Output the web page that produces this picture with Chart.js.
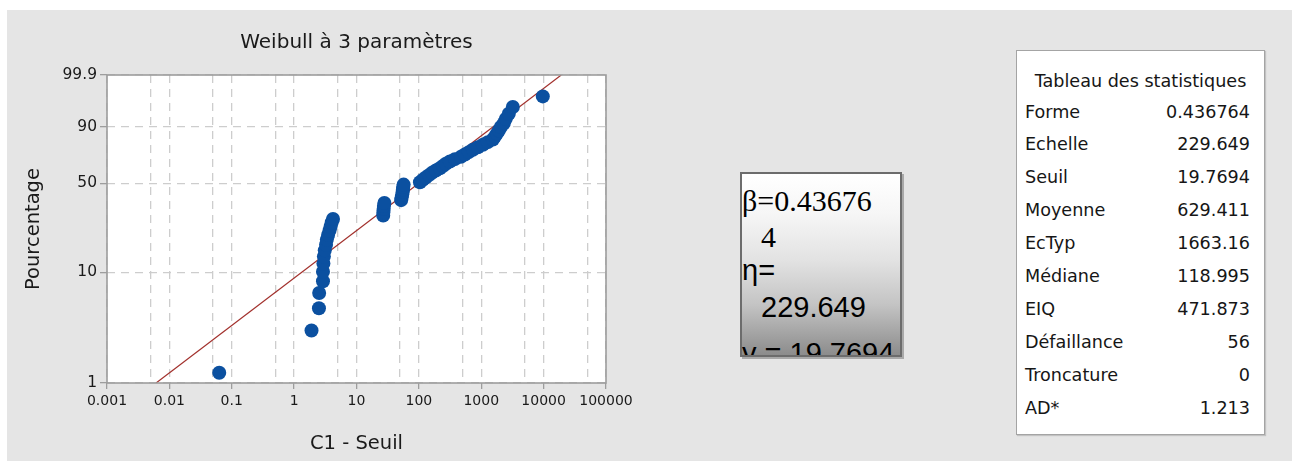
<!DOCTYPE html>
<html lang="fr">
<head>
<meta charset="utf-8">
<title>Weibull à 3 paramètres</title>
<script src="https://cdn.jsdelivr.net/npm/chart.js@4.4.1/dist/chart.umd.min.js"></script>
<style>
  html, body { margin: 0; padding: 0; background: #ffffff; }
  body { width: 1292px; height: 463px; position: relative; overflow: hidden; }
  #panel { position: absolute; left: 7px; top: 10px; width: 1285px; height: 451px; background: #e5e5e5; }
  #plot { position: absolute; left: 0; top: 0; }
  #params {
    position: absolute; left: 740px; top: 172px; width: 158px; height: 181px;
    border: 2px solid #6c6c6c; overflow: hidden;
    background: linear-gradient(to bottom, #ffffff 0%, #f6f6f6 22%, #e2e2e2 48%, #c4c4c4 72%, #8c8c8c 100%);
    box-shadow: 2px 2px 0 #a9a9a9;
  }
  #params div { position: absolute; white-space: nowrap; line-height: 1; color: #000; }
  #params .serif { font-family: "Liberation Serif", "Times New Roman", serif; font-size: 30px; }
  #params .sans { font-family: "Liberation Sans", Arial, sans-serif; font-size: 29px; }
  #stats {
    position: absolute; left: 1016px; top: 50px; width: 247px; height: 383px;
    background: #ffffff; border: 1px solid #a4a4a4; box-shadow: 1px 1px 1px #c2c2c2;
    font-family: "DejaVu Sans", sans-serif; font-size: 17.6px; color: #161616;
  }
  #stats .row { position: absolute; left: 8px; right: 14px; height: 33px; line-height: 33px; white-space: nowrap; }
  #stats .row .v { position: absolute; right: 0; top: 0; }
  #stats .head { position: absolute; left: 0; right: 0; height: 33px; line-height: 33px; text-align: center; white-space: nowrap; }
</style>
</head>
<body>
<div id="panel"></div>
<canvas id="plot" width="640" height="463"></canvas>

<div id="params">
  <div class="serif" style="left:0px; top:11.5px;">β=0.43676</div>
  <div class="serif" style="left:19px; top:47.5px;">4</div>
  <div class="sans" style="left:0px; top:82px;">η=</div>
  <div class="sans" style="left:19px; top:118.5px;">229.649</div>
  <div class="sans" style="left:0px; top:165px;">γ = 19.7694</div>
</div>

<div id="stats"></div>

<script>
// Weibull 3-parameter fit
const shapeBeta = 0.436764;
const scaleEta = 229.649;
const thresholdGamma = 19.7694;

// Statistics table
const statLabels = ['Forme', 'Echelle', 'Seuil', 'Moyenne', 'EcTyp', 'Médiane', 'EIQ', 'Défaillance', 'Troncature', 'AD*'];
const statValues = ['0.436764', '229.649', '19.7694', '629.411', '1663.16', '118.995', '471.873', '56', '0', '1.213'];

// Axis ticks
const xTickValues = [0.001, 0.01, 0.1, 1, 10, 100, 1000, 10000, 100000];
const xTickLabels = ['0.001', '0.01', '0.1', '1', '10', '100', '1000', '10000', '100000'];
const xMinorGrid = [0.005, 0.05, 0.5, 5, 50, 500, 5000, 50000];
const yTickValues = [1, 10, 50, 90, 99.9];
const yTickLabels = ['1', '10', '50', '90', '99.9'];

// Failure times (C1 - Seuil) and their plotting positions (%)
const obsTime = [
  0.063, 1.9, 2.5, 2.52, 2.9, 2.9, 2.95, 3.0, 3.1, 3.25, 3.35, 3.5, 3.7, 3.85, 4.0, 4.2,
  26.8, 27.0, 27.2, 27.5, 28.0,
  52, 53, 54, 55, 55.5, 56, 57,
  104, 116, 129, 145, 162, 187, 217, 243, 271, 314, 378, 471, 546, 632, 733, 883,
  1062, 1276, 1535, 1652, 1778, 1915, 2061, 2302, 2478, 2768, 3206, 9705
];
const obsPercent = [
  1.241, 3.014, 4.787, 6.560, 8.333, 10.106, 11.879, 13.652, 15.426, 17.199, 18.972, 20.745,
  22.518, 24.291, 26.064, 27.837, 29.610, 31.383, 33.156, 34.929, 36.702, 38.475, 40.248,
  42.021, 43.794, 45.567, 47.340, 49.113, 50.887, 52.660, 54.433, 56.206, 57.979, 59.752,
  61.525, 63.298, 65.071, 66.844, 68.617, 70.390, 72.163, 73.936, 75.709, 77.482, 79.255,
  81.028, 82.801, 84.574, 86.348, 88.121, 89.894, 91.667, 93.440, 95.213, 96.986, 98.759
];

// Percent ends of the fitted line
const fitPercent = [1, 99.9];

// Weibull probability paper: percent -> ln(-ln(1 - p))
const wb = p => Math.log(-Math.log(1 - p / 100));
// Time for a given percent on the fitted distribution
const fitTime = p => scaleEta * Math.pow(-Math.log(1 - p / 100), 1 / shapeBeta);

// Statistics table
(function buildTable() {
  const box = document.getElementById('stats');
  const head = document.createElement('div');
  head.className = 'head';
  head.style.top = '14px';
  head.textContent = 'Tableau des statistiques';
  box.appendChild(head);
  statLabels.forEach((lab, k) => {
    const row = document.createElement('div');
    row.className = 'row';
    row.style.top = (44.5 + k * 32.96) + 'px';
    const l = document.createElement('span');
    l.textContent = lab;
    const v = document.createElement('span');
    v.className = 'v';
    v.textContent = statValues[k];
    row.appendChild(l);
    row.appendChild(v);
    box.appendChild(row);
  });
})();

const textColor = '#1a1a1a';
const frameColor = '#9d9d9d';
const gridColor = '#cdcdcd';

const plotDecor = {
  id: 'plotDecor',
  beforeDraw(chart) {
    const { ctx, chartArea: a } = chart;
    ctx.save();
    ctx.fillStyle = '#ffffff';
    ctx.fillRect(a.left, a.top, a.right - a.left, a.bottom - a.top);
    ctx.restore();
  },
  afterDraw(chart) {
    const { ctx, chartArea: a } = chart;
    ctx.save();
    ctx.strokeStyle = frameColor;
    ctx.lineWidth = 1.6;
    ctx.strokeRect(a.left, a.top, a.right - a.left, a.bottom - a.top);
    ctx.fillStyle = textColor;
    ctx.font = '20px "DejaVu Sans", sans-serif';
    ctx.textAlign = 'center';
    ctx.textBaseline = 'middle';
    ctx.fillText('Weibull à 3 paramètres', (a.left + a.right) / 2, 43);
    ctx.restore();
  }
};

new Chart(document.getElementById('plot'), {
  type: 'scatter',
  data: {
    datasets: [
      {
        label: 'C1',
        data: obsTime.map((t, i) => ({ x: t, y: wb(obsPercent[i]) })),
        backgroundColor: '#0b50a0',
        borderColor: '#0b50a0',
        borderWidth: 0,
        pointRadius: 7,
        pointHoverRadius: 7
      },
      {
        label: 'Ajustement',
        data: fitPercent.map(p => ({ x: fitTime(p), y: wb(p) })),
        showLine: true,
        borderColor: '#a2302c',
        borderWidth: 1.2,
        pointRadius: 0
      }
    ]
  },
  options: {
    responsive: false,
    animation: false,
    events: [],
    layout: { padding: { left: 0, top: 75, right: 34, bottom: 0 } },
    plugins: { legend: { display: false }, tooltip: { enabled: false }, title: { display: false } },
    scales: {
      x: {
        type: 'logarithmic',
        min: 0.001,
        max: 100000,
        afterBuildTicks: s => {
          s.ticks = xTickValues.concat(xMinorGrid).sort((a, b) => a - b).map(v => ({ value: v }));
        },
        afterFit: s => { s.height = 80; },
        ticks: {
          autoSkip: false,
          maxRotation: 0,
          padding: 4,
          color: textColor,
          font: { family: '"DejaVu Sans", sans-serif', size: 14 },
          callback: v => {
            const k = xTickValues.indexOf(v);
            return k >= 0 ? xTickLabels[k] : '';
          }
        },
        grid: {
          color: gridColor,
          lineWidth: 1.3,
          tickLength: 6,
          tickWidth: 1.3,
          tickColor: c => (c.tick && xTickValues.indexOf(c.tick.value) >= 0) ? frameColor : 'rgba(0,0,0,0)',
          tickBorderDash: []
        },
        border: { display: false, dash: [8, 6] },
        title: {
          display: true,
          text: 'C1 - Seuil',
          color: textColor,
          font: { family: '"DejaVu Sans", sans-serif', size: 19.5 },
          padding: { top: 0, bottom: 7 }
        }
      },
      y: {
        type: 'linear',
        min: wb(yTickValues[0]),
        max: wb(yTickValues[yTickValues.length - 1]),
        afterBuildTicks: s => { s.ticks = yTickValues.map(p => ({ value: wb(p) })); },
        afterFit: s => { s.width = 107; },
        ticks: {
          padding: 3,
          color: textColor,
          font: { family: '"DejaVu Sans", sans-serif', size: 15.5 },
          callback: (v, i) => yTickLabels[i]
        },
        grid: {
          color: gridColor,
          lineWidth: 1.3,
          tickLength: 7,
          tickWidth: 1.3,
          tickColor: frameColor,
          tickBorderDash: []
        },
        border: { display: false, dash: [8, 6] },
        title: {
          display: true,
          text: 'Pourcentage',
          color: textColor,
          font: { family: '"DejaVu Sans", sans-serif', size: 19.5 },
          padding: { top: 22, bottom: 0 }
        }
      }
    }
  },
  plugins: [plotDecor]
});
</script>
</body>
</html>
